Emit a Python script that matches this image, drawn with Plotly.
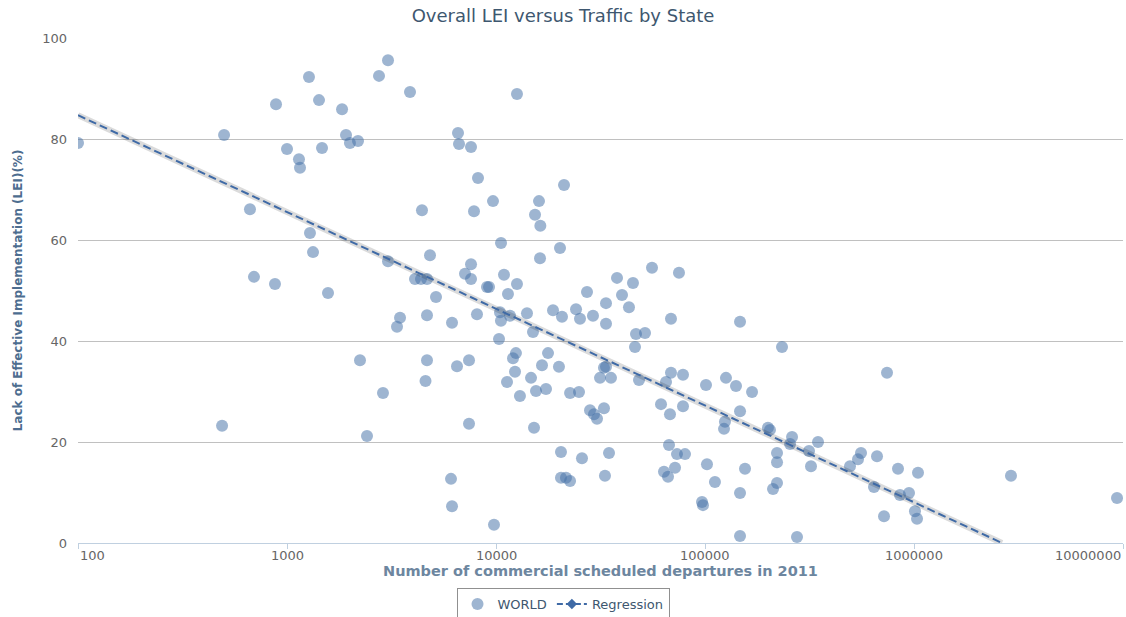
import math
import plotly.graph_objects as go

# Departures (x) and LEI % (y)
departures = [
    100, 500, 886, 1274, 1423, 1834, 3043, 2755, 3877, 1916,
    2001, 2186, 1000, 1471, 1141, 1154, 665, 4424, 1288, 1332,
    3043, 4833, 4097, 4376, 4676, 695, 876, 1571, 12600, 6579,
    6653, 7594, 8200, 9674, 7848, 21160, 16060, 15370, 16300, 10570,
    20240, 16240, 55770, 75080, 7594, 7107, 7594, 9055, 9260, 10920,
    12600, 37930, 45230, 27250, 40080, 11410, 5163, 33600, 43280, 6159,
    8110, 4676, 10450, 10560, 11670, 14070, 18740, 20690, 24150, 25230,
    29110, 33600, 15030, 10340, 68750, 46760, 51630, 46240, 147100, 4676,
    4600, 6507, 7428, 12460, 12060, 17740, 16600, 20010, 12330, 11290,
    14710, 13020, 15540, 17350, 22610, 24950, 32860, 33600, 31450, 35500,
    48330, 28170, 29440, 30430, 32860, 7428, 15200, 68750, 78480, 65070,
    101100, 126000, 140700, 167900, 61590, 68000, 78480, 147100, 124600, 123300,
    200100, 204600, 233600, 20460, 25790, 34740, 6091, 20460, 21620, 22610,
    33220, 6159, 9781, 67260, 73450, 80240, 63650, 66530, 71860, 102200,
    111600, 155400, 147100, 96740, 97810, 147100, 221100, 221100, 221100, 211600,
    742800, 260900, 255200, 347400, 314500, 321500, 557700, 539600, 494000, 665300,
    838400, 1045000, 643600, 857000, 946500, 1011000, 1034000, 718600, 275500, 2911000,
    9361000, 3474, 3360, 2235, 2879, 489, 2414,
]
lei = [
    79.2, 80.8, 86.9, 92.3, 87.7, 85.9, 95.6, 92.5, 89.3, 80.8,
    79.2, 79.6, 78.0, 78.2, 76.0, 74.3, 66.1, 65.9, 61.4, 57.6,
    55.8, 57.0, 52.3, 52.3, 52.3, 52.7, 51.3, 49.5, 88.9, 81.2,
    79.0, 78.4, 72.3, 67.7, 65.7, 70.9, 67.7, 65.0, 62.8, 59.4,
    58.4, 56.4, 54.5, 53.5, 55.2, 53.3, 52.3, 50.7, 50.7, 53.1,
    51.3, 52.5, 51.5, 49.7, 49.1, 49.3, 48.7, 47.5, 46.7, 43.6,
    45.3, 45.1, 45.7, 44.0, 45.0, 45.5, 46.1, 44.8, 46.3, 44.4,
    45.0, 43.4, 41.8, 40.4, 44.4, 41.4, 41.6, 38.8, 43.8, 36.2,
    32.1, 35.0, 36.2, 37.6, 36.6, 37.6, 35.2, 34.9, 33.9, 31.9,
    32.7, 29.1, 30.1, 30.5, 29.7, 29.9, 34.7, 34.9, 32.7, 32.7,
    32.3, 26.3, 25.5, 24.6, 26.7, 23.6, 22.8, 33.7, 33.3, 31.9,
    31.3, 32.7, 31.1, 29.9, 27.5, 25.5, 27.1, 26.1, 24.0, 22.6,
    22.8, 22.4, 38.8, 18.0, 16.8, 17.8, 12.7, 12.9, 12.9, 12.3,
    13.3, 7.3, 3.6, 19.4, 17.6, 17.6, 14.1, 13.1, 14.9, 15.6,
    12.1, 14.7, 9.9, 8.1, 7.5, 1.4, 17.8, 16.0, 11.9, 10.7,
    33.7, 21.0, 19.6, 20.0, 18.2, 15.2, 17.8, 16.6, 15.2, 17.2,
    14.7, 13.9, 11.1, 9.5, 9.9, 6.3, 4.8, 5.3, 1.2, 13.3,
    8.9, 44.6, 42.8, 36.2, 29.7, 23.2, 21.2,
]

reg_x = [100, 2637000]
reg_y = [84.7, 0]

x_tickvals = [100, 1000, 10000, 100000, 1000000, 10000000]
x_ticktext = ["100", "1000", "10000", "100000", "1000000", "10000000"]
y_tickvals = [0, 20, 40, 60, 80, 100]

FONT = "DejaVu Sans"
REG_COLOR = "#3f6aa6"

fig = go.Figure()

fig.add_trace(go.Scatter(
    x=departures, y=lei, mode="markers", name="WORLD",
    marker=dict(size=12, color="rgba(69,114,167,0.52)", line=dict(width=0)),
))
# shadow under regression line
fig.add_trace(go.Scatter(
    x=reg_x, y=reg_y, mode="lines", showlegend=False, hoverinfo="skip",
    line=dict(color="rgba(0,0,0,0.14)", width=6),
))
fig.add_trace(go.Scatter(
    x=reg_x, y=reg_y, mode="lines", showlegend=False, name="Regression",
    line=dict(color=REG_COLOR, width=2, dash="8px,4px"),
))
# legend entry for regression (line with diamond marker)
fig.add_trace(go.Scatter(
    x=[None], y=[None], mode="lines+markers", name="Regression",
    line=dict(color=REG_COLOR, width=2, dash="6px,3px"),
    marker=dict(symbol="diamond", size=8, color=REG_COLOR),
))

annotations = []
n = len(x_tickvals)
for i, (v, t) in enumerate(zip(x_tickvals, x_ticktext)):
    anchor = "left" if i == 0 else ("right" if i == n - 1 else "center")
    annotations.append(dict(
        x=math.log10(v), y=0, xref="x", yref="paper", text=t, showarrow=False,
        xanchor=anchor, yanchor="top", yshift=-3,
        font=dict(family=FONT, size=13, color="#666666"),
    ))

fig.update_layout(
    width=1126, height=617,
    margin=dict(l=78, r=3, t=38, b=74),
    paper_bgcolor="white", plot_bgcolor="white",
    font=dict(family=FONT, color="#666666"),
    title=dict(
        text="Overall LEI versus Traffic by State",
        x=0.5, xref="container", xanchor="center",
        y=1 - 16 / 617, yref="container", yanchor="middle",
        font=dict(family=FONT, size=18, color="#3E576F"),
    ),
    xaxis=dict(
        type="log", range=[2, 7],
        tickvals=x_tickvals, ticktext=x_ticktext, showticklabels=False,
        showgrid=False, zeroline=False,
        showline=True, linecolor="#C0D0E0", linewidth=1,
        ticks="outside", ticklen=5, tickcolor="#C0D0E0",
        title=dict(
            text="Number of commercial scheduled departures in 2011",
            font=dict(family=FONT, size=14.5, color="#6D869F", weight="bold"),
            standoff=17,
        ),
    ),
    yaxis=dict(
        range=[0, 100], tickvals=y_tickvals,
        showgrid=True, gridcolor="#C0C0C0", gridwidth=1,
        zeroline=False, showline=False,
        ticklabelstandoff=10,
        tickfont=dict(family=FONT, size=13, color="#666666"),
        title=dict(
            text="Lack of Effective Implementation (LEI)(%)",
            font=dict(family=FONT, size=12, color="#4D6D8F", weight="bold"),
            standoff=16,
        ),
    ),
    legend=dict(
        orientation="h",
        x=0.5, xref="container", xanchor="center",
        y=1 - 604 / 617, yref="container", yanchor="middle",
        bordercolor="#909090", borderwidth=1, bgcolor="white",
        font=dict(family=FONT, size=13, color="#3E576F"),
    ),
    annotations=annotations,
    showlegend=True,
)

fig.write_html(
    "out.html",
    config={"displayModeBar": False},
    post_script="document.body.style.margin='0px';document.body.style.overflow='hidden';",
)
